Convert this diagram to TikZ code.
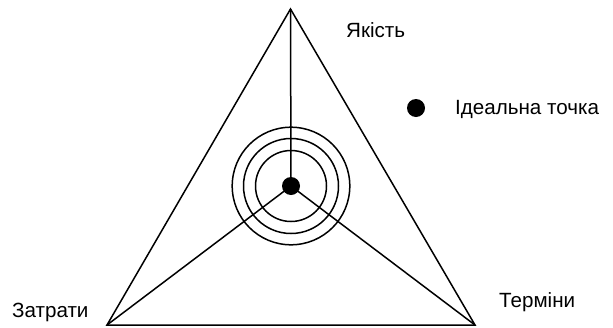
\documentclass[tikz,border=0pt]{standalone}
\usepackage{fontspec}
\setmainfont{Liberation Sans}
\usepackage{tikz}
\begin{document}
\begin{tikzpicture}[
        x=1pt, y=-1pt,
        edge/.style={draw, line width=1.5pt},
        dot/.style={circle, fill=black, minimum size=18pt, inner sep=0pt},
        caption/.style={anchor=base west, inner sep=0pt, font=\fontsize{20.6}{24}\selectfont}
    ]
        \useasboundingbox (0,0) rectangle (613,327);
        % corners of the triangle
        \coordinate (quality) at (290.5,9);
        \coordinate (cost) at (107,325);
        \coordinate (time) at (475,325);
        \node[dot] (centre) at (291,186) {};
        \draw[edge, line join=miter] (quality) -- (cost) -- (time) -- cycle;
        \foreach \corner in {quality, cost, time}
            \draw[edge] (centre.center) -- (\corner);
        \foreach \r in {35.5, 47.5, 58.8}
            \draw[edge] (centre.center) circle[radius=\r];
        % labels
        \node[caption] (qualityLabel) at (346,37) {Якість};
        \node[caption] (costLabel) at (12,317) {Затрати};
        \node[caption] (timeLabel) at (499,307) {Терміни};
        \node[dot] (legendDot) at (416,108) {};
        \node[caption] (legendLabel) at (455,114) {Ідеальна точка};
    \end{tikzpicture}
\end{document}
